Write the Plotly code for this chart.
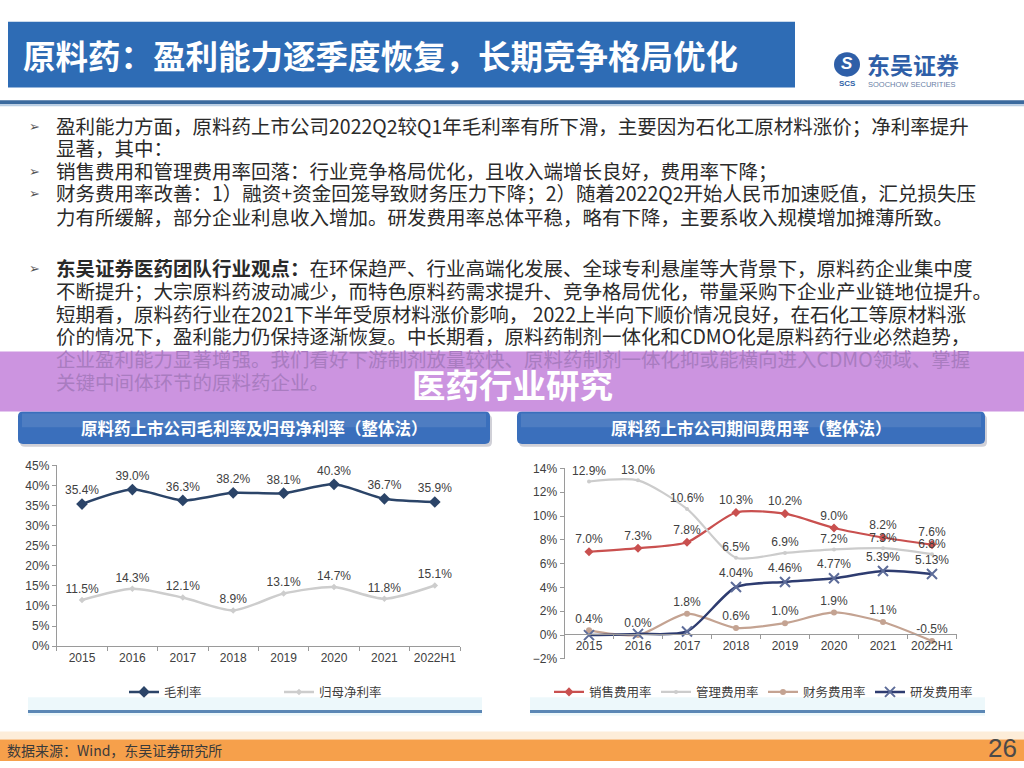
import plotly.graph_objects as go

W, H = 1024, 768
def px(x): return x / W
def py(y): return 1 - y / H

# ---------------- data ----------------
years = ["2015", "2016", "2017", "2018", "2019", "2020", "2021", "2022H1"]
gross_margin = [35.4, 39.0, 36.3, 38.2, 38.1, 40.3, 36.7, 35.9]      # 毛利率
net_margin = [11.5, 14.3, 12.1, 8.9, 13.1, 14.7, 11.8, 15.1]         # 归母净利率
selling_rate = [7.0, 7.3, 7.8, 10.3, 10.2, 9.0, 8.2, 7.6]            # 销售费用率
admin_rate = [12.9, 13.0, 10.6, 6.5, 6.9, 7.2, 7.3, 6.8]             # 管理费用率
finance_rate = [0.4, 0.0, 1.8, 0.6, 1.0, 1.9, 1.1, -0.5]             # 财务费用率
rnd_rate = [0.0, 0.1, 0.3, 4.04, 4.46, 4.77, 5.39, 5.13]             # 研发费用率
rnd_labelled_from = 3

title_text = "原料药：盈利能力逐季度恢复，长期竞争格局优化"
para1 = [
    ("➢", "盈利能力方面，原料药上市公司2022Q2较Q1年毛利率有所下滑，主要因为石化工原材料涨价；净利率提升"),
    ("", "显著，其中："),
    ("➢", "销售费用和管理费用率回落：行业竞争格局优化，且收入端增长良好，费用率下降；"),
    ("➢", "财务费用率改善：1）融资+资金回笼导致财务压力下降；2）随着2022Q2开始人民币加速贬值，汇兑损失压"),
    ("", "力有所缓解，部分企业利息收入增加。研发费用率总体平稳，略有下降，主要系收入规模增加摊薄所致。"),
]
para2 = [
    ("➢", "<b>东吴证券医药团队行业观点：</b>在环保趋严、行业高端化发展、全球专利悬崖等大背景下，原料药企业集中度"),
    ("", "不断提升；大宗原料药波动减少，而特色原料药需求提升、竞争格局优化，带量采购下企业产业链地位提升。"),
    ("", "短期看，原料药行业在2021下半年受原材料涨价影响， 2022上半向下顺价情况良好，在石化工等原材料涨"),
    ("", "价的情况下，盈利能力仍保持逐渐恢复。中长期看，原料药制剂一体化和CDMO化是原料药行业必然趋势，"),
    ("", "企业盈利能力显著增强。我们看好下游制剂放量较快、原料药制剂一体化抑或能横向进入CDMO领域、掌握"),
    ("", "关键中间体环节的原料药企业。"),
]
banner_text = "医药行业研究"
left_title = "原料药上市公司毛利率及归母净利率（整体法）"
right_title = "原料药上市公司期间费用率（整体法）"
source_text = "数据来源：Wind，东吴证券研究所"
page_no = "26"

CJK = "Noto Sans CJK SC, DejaVu Sans, sans-serif"
NUM = "Liberation Sans, Arial, sans-serif"

def pct1(v):
    return ["%.1f%%" % x for x in v]

fig = go.Figure()

# ---------------- left chart ----------------
fig.add_trace(go.Scatter(
    x=years, y=gross_margin, name="毛利率", mode="lines+markers+text",
    line=dict(color="#2B4468", width=2.5, shape="spline", smoothing=0.7),
    marker=dict(symbol="diamond", size=9, color="#2B4468"),
    text=pct1(gross_margin), textposition="top center",
    textfont=dict(family=NUM, size=12, color="#404040"),
    cliponaxis=False, xaxis="x", yaxis="y", legend="legend"))
fig.add_trace(go.Scatter(
    x=years, y=net_margin, name="归母净利率", mode="lines+markers+text",
    line=dict(color="#CDCDCD", width=2.5, shape="spline", smoothing=0.7),
    marker=dict(symbol="diamond", size=5, color="#CDCDCD"),
    text=pct1(net_margin), textposition="top center",
    textfont=dict(family=NUM, size=12, color="#404040"),
    cliponaxis=False, xaxis="x", yaxis="y", legend="legend"))

# ---------------- right chart ----------------
fig.add_trace(go.Scatter(
    x=years, y=selling_rate, name="销售费用率", mode="lines+markers+text",
    line=dict(color="#C9504F", width=2.2, shape="spline", smoothing=0.7),
    marker=dict(symbol="diamond", size=7, color="#C9504F"),
    text=pct1(selling_rate), textposition="top center",
    textfont=dict(family=NUM, size=12, color="#404040"),
    cliponaxis=False, xaxis="x2", yaxis="y2", legend="legend2"))
fig.add_trace(go.Scatter(
    x=years, y=admin_rate, name="管理费用率", mode="lines+markers+text",
    line=dict(color="#CCCCCC", width=2.2, shape="spline", smoothing=0.7),
    marker=dict(symbol="circle", size=4, color="#CCCCCC"),
    text=pct1(admin_rate), textposition="top center",
    textfont=dict(family=NUM, size=12, color="#404040"),
    cliponaxis=False, xaxis="x2", yaxis="y2", legend="legend2"))
fig.add_trace(go.Scatter(
    x=years, y=finance_rate, name="财务费用率", mode="lines+markers+text",
    line=dict(color="#C4A392", width=2.2, shape="spline", smoothing=0.7),
    marker=dict(symbol="circle", size=6, color="#C4A392"),
    text=pct1(finance_rate), textposition="top center",
    textfont=dict(family=NUM, size=12, color="#404040"),
    cliponaxis=False, xaxis="x2", yaxis="y2", legend="legend2"))
fig.add_trace(go.Scatter(
    x=years, y=rnd_rate, name="研发费用率", mode="lines+markers+text",
    line=dict(color="#2E3C70", width=2.5, shape="spline", smoothing=0.7),
    marker=dict(symbol="x-thin", size=10, color="#5D6C99",
                line=dict(width=2, color="#5D6C99")),
    text=[("%.2f%%" % v) if i >= rnd_labelled_from else "" for i, v in enumerate(rnd_rate)],
    textposition="top center",
    textfont=dict(family=NUM, size=12, color="#404040"),
    cliponaxis=False, xaxis="x2", yaxis="y2", legend="legend2"))

shapes = []
annos = []

def note(x, y, text, size, color, family=CJK, xanchor="left"):
    annos.append(dict(x=px(x), y=py(y), xref="paper", yref="paper",
                      xanchor=xanchor, yanchor="middle", showarrow=False, borderpad=0,
                      text=text, font=dict(family=family, size=size, color=color)))

def rect(x0, y0, x1, y1, color, layer="below"):
    shapes.append(dict(type="rect", xref="paper", yref="paper",
                       x0=px(x0), x1=px(x1), y0=py(y1), y1=py(y0),
                       fillcolor=color, line=dict(width=0), layer=layer))

# title bar
rect(8, 15, 795, 82, "#2E6CB5")
note(22, 48, "<b>%s</b>" % title_text, 32.5, "white")
# separator line under title
rect(0, 95, 1024, 99, "#3B6A9E")
rect(0, 99, 1024, 101, "#B8CDE3")

# logo
shapes.append(dict(type="circle", xref="paper", yref="paper",
                   x0=px(834), x1=px(860), y0=py(71), y1=py(46),
                   fillcolor="#2F5FA8", line=dict(width=0), layer="below"))
note(847, 58, "<b><i>S</i></b>", 17, "white", family=NUM, xanchor="center")
note(847, 78, "<b>SCS</b>", 8, "#2F5FA8", family=NUM, xanchor="center")
note(866, 58, "<b>东吴证券</b>", 23, "#2F5FA8")
note(867, 79, "SOOCHOW SECURITIES", 7.5, "#6A7FA6", family=NUM)

# body text
TXT = "#2A2A2A"
for (b, t), y in zip(para1, [121, 143, 167, 189, 213]):
    if b:
        note(28, y, b, 13, "#555555")
    note(55, y, t, 19.5, TXT)
for (b, t), y in zip(para2, [265, 289, 312, 335, 358, 381]):
    col = TXT if y < 350 else "#A97CC0"
    if b:
        note(28, y, b, 13, "#555555")
    note(55, y, t, 19.5, col)

# purple banner
rect(0, 351, 1024, 412, "rgba(200,140,222,0.93)", layer="above")
note(512, 383, "<b>%s</b>" % banner_text, 33.5, "white", xanchor="center")

# chart header bars
def rounded(x0, y0, x1, y1, r):
    X0, X1 = px(x0), px(x1)
    return (f"M {px(x0 + r)},{py(y0)} L {px(x1 - r)},{py(y0)} Q {X1},{py(y0)} {X1},{py(y0 + r)} "
            f"L {X1},{py(y1 - r)} Q {X1},{py(y1)} {px(x1 - r)},{py(y1)} "
            f"L {px(x0 + r)},{py(y1)} Q {X0},{py(y1)} {X0},{py(y1 - r)} "
            f"L {X0},{py(y0 + r)} Q {X0},{py(y0)} {px(x0 + r)},{py(y0)} Z")

for (x0, x1, ttl) in [(18, 490, left_title), (517, 985, right_title)]:
    shapes.append(dict(type="path", xref="paper", yref="paper",
                       path=rounded(x0 + 2, 415, x1 + 2, 448, 5),
                       fillcolor="rgba(120,120,140,0.35)", line=dict(width=0), layer="below"))
    shapes.append(dict(type="path", xref="paper", yref="paper",
                       path=rounded(x0, 412, x1, 445, 5),
                       fillcolor="#3A6FBC", line=dict(width=0), layer="below"))
    rect(x0 + 4, 414, x1 - 4, 428, "rgba(255,255,255,0.10)")
    note((x0 + x1) / 2, 429, "<b>%s</b>" % ttl, 16.5, "white", xanchor="center")

# separator lines under charts
for (x0, x1) in [(28, 482), (530, 985)]:
    rect(x0, 703, x1, 722, "rgba(225,243,248,0.6)")
    rect(x0, 716, x1, 719, "#5B87B5")

# footer
rect(0, 738, 1024, 746, "rgba(250,215,170,0.45)")
rect(0, 746, 1024, 768, "#F6A04B")
note(6, 757, source_text, 14, "#3A3A3A")
note(1018, 755, page_no, 26, "#4A4A4A", family=NUM, xanchor="right")

axis_common = dict(showgrid=False, zeroline=False, showline=True, linecolor="#9A9A9A",
                   linewidth=1, ticks="outside", ticklen=4, tickcolor="#9A9A9A",
                   tickfont=dict(family=NUM, size=12, color="#404040"), fixedrange=True)

fig.update_layout(
    width=W, height=H, autosize=False,
    margin=dict(l=0, r=0, t=0, b=0),
    paper_bgcolor="white", plot_bgcolor="rgba(0,0,0,0)",
    xaxis=dict(domain=[px(56.8), px(460)], type="category", range=[-0.5, 7.5],
               tickson="boundaries", tickangle=0, anchor="y", **axis_common),
    yaxis=dict(domain=[py(651), py(467)], range=[0, 45], dtick=5, ticksuffix="%",
               anchor="x", **axis_common),
    xaxis2=dict(domain=[px(564.5), px(956.5)], type="category", range=[-0.5, 7.5],
                tickson="boundaries", tickangle=0, anchor="free", position=py(639),
                **axis_common),
    yaxis2=dict(domain=[py(664), py(470)], range=[-2, 14], dtick=2, ticksuffix="%",
                anchor="x2", **axis_common),
    legend=dict(orientation="h", x=px(124), y=py(698), xanchor="left", yanchor="middle",
                entrywidth=110, entrywidthmode="pixels", bgcolor="rgba(0,0,0,0)",
                font=dict(family=CJK, size=12.5, color="#404040"), itemclick=False),
    legend2=dict(orientation="h", x=px(549), y=py(698), xanchor="left", yanchor="middle",
                 entrywidth=62, entrywidthmode="pixels", bgcolor="rgba(0,0,0,0)",
                 font=dict(family=CJK, size=12.5, color="#404040"), itemclick=False),
    shapes=shapes, annotations=annos,
)

fig.write_html("out.html")
